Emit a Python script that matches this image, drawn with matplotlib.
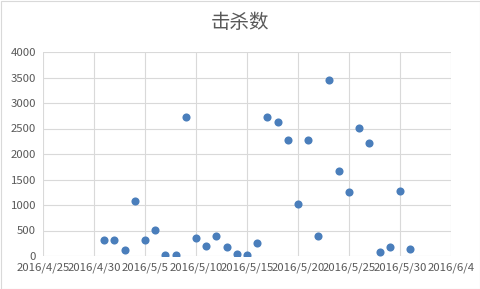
import datetime as dt
import matplotlib
matplotlib.use("Agg")
import matplotlib.pyplot as plt
from matplotlib.patches import Rectangle

plt.rcParams['font.family'] = ['Noto Sans CJK SC', 'DejaVu Sans']

# data: one point per day, 2016/5/1 .. 2016/5/31
start = dt.date(2016, 5, 1)
kills = [307, 320, 111, 1083, 313, 509, 26, 20, 2734, 359,
         202, 392, 183, 46, 20, 254, 2721, 2630, 2277, 1011,
         2277, 392, 3445, 1670, 1246, 2519, 2212, 72, 176, 1272,
         144]
dates = [start + dt.timedelta(days=i) for i in range(len(kills))]

title = "击杀数"
x_min = dt.date(2016, 4, 25)
x_max = dt.date(2016, 6, 4)
y_ticks = [0, 500, 1000, 1500, 2000, 2500, 3000, 3500, 4000]

text_color = '#595959'
grid_color = '#d9d9d9'

fig = plt.figure(figsize=(4.81, 2.89), dpi=100)
ax = fig.add_axes([43 / 481, 33 / 289, 408 / 481, 204 / 289])

ax.scatter(dates, kills, s=34, color='#4A7EBB', zorder=3, linewidths=0)

ax.set_xlim(x_min, x_max)
ax.set_ylim(0, 4000)
ax.set_yticks(y_ticks)
ticks = [x_min + dt.timedelta(days=5 * i) for i in range(9)]
ax.set_xticks(ticks)
ax.set_xticklabels([f"{d.year}/{d.month}/{d.day}" for d in ticks])

ax.grid(True, color=grid_color, linewidth=0.8)
ax.set_axisbelow(True)
for s in ax.spines.values():
    s.set_visible(False)
ax.tick_params(length=0, labelsize=8.2, colors=text_color, pad=5)

fig.text(0.5, 1 - 22 / 289, title, ha='center', va='center',
         fontsize=14, color=text_color)

fig.patches.append(Rectangle((0.5 / 481, 0.5 / 289), 479.5 / 481, 287.5 / 289,
                             transform=fig.transFigure, fill=False,
                             edgecolor=grid_color, linewidth=0.8))

fig.savefig("out.png", dpi=100)
